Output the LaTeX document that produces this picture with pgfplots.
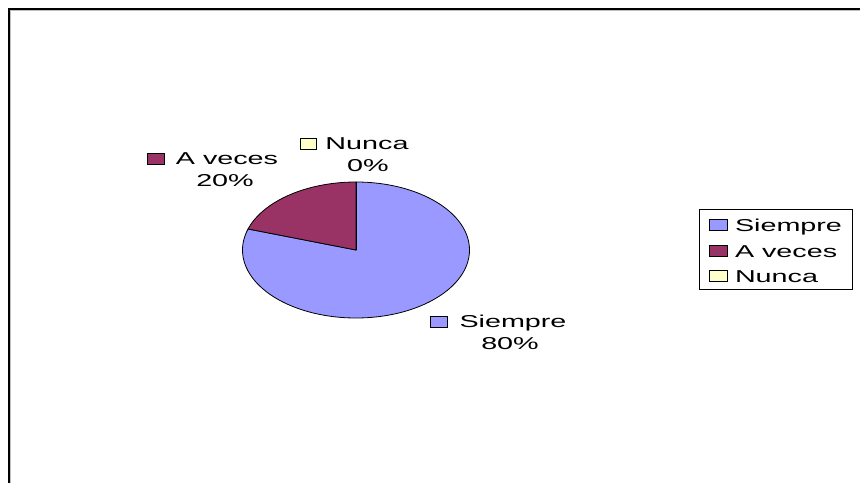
\documentclass[border=0pt]{standalone}
\usepackage{pgfplots}
\pgfplotsset{compat=1.18}
\usepackage{graphicx}
\usepackage{fontspec}
\setmainfont{Liberation Sans}

\definecolor{siempre}{HTML}{9999FF}
\definecolor{aveces}{HTML}{993366}
\definecolor{nunca}{HTML}{FFFFCC}

% porcentajes
\def\vSiempre{80}
\def\vAveces{20}
\def\vNunca{0}

\pgfmathsetmacro\aA{90-3.6*\vSiempre}
\pgfmathsetmacro\aB{\aA-3.6*\vAveces}
\pgfmathsetmacro\aC{\aB-3.6*\vNunca}

% wide text, like the stretched original
\newcommand{\wt}[1]{\scalebox{1.67}[1]{\fontsize{17.2bp}{21bp}\selectfont #1}}
\tikzset{lbl/.style={inner sep=0pt, outer sep=0pt, anchor=base},
         key/.style={draw=black, line width=0.6bp}}

\begin{document}
\begin{tikzpicture}
\begin{axis}[
    width=860bp, height=483bp, scale only axis,
    xmin=0, xmax=860, ymin=0, ymax=483,
    y dir=reverse,
    hide axis,
    clip=false,
]
    % frame (top and left)
    \draw[gray!50, line width=1bp] (axis cs:10.5,483) -- (axis cs:10.5,10.5) -- (axis cs:860,10.5);
    \draw[black, line width=2bp] (axis cs:9,483) -- (axis cs:9,9) -- (axis cs:860,9);

    % pie
    \filldraw[fill=siempre, draw=black, line width=0.8bp]
      (axis cs:356,250) -- ++(90:113.5bp and 68bp)
      arc[start angle=90, end angle=\aA, x radius=113.5bp, y radius=68bp] -- cycle;
    \filldraw[fill=aveces, draw=black, line width=0.8bp]
      (axis cs:356,250) -- ++(\aA:113.5bp and 68bp)
      arc[start angle=\aA, end angle=\aB, x radius=113.5bp, y radius=68bp] -- cycle;
    \draw[black, line width=0.8bp] (axis cs:356,250) -- ++(\aC:113.5bp and 68bp);

    % data labels
    \filldraw[key, fill=aveces] (axis cs:147,153) rectangle (axis cs:164,164);
    \node[lbl] at (axis cs:227,164) {\wt{A veces}};
    \node[lbl] at (axis cs:225,186) {\wt{\vAveces\%}};

    \filldraw[key, fill=nunca] (axis cs:300,138) rectangle (axis cs:316,149);
    \node[lbl] at (axis cs:367,149) {\wt{Nunca}};
    \node[lbl] at (axis cs:368,171) {\wt{\vNunca\%}};

    \filldraw[key, fill=siempre] (axis cs:430,316) rectangle (axis cs:447,327);
    \node[lbl] at (axis cs:513,327) {\wt{Siempre}};
    \node[lbl] at (axis cs:510,349) {\wt{\vSiempre\%}};

    % legend
    \draw[black, line width=1bp] (axis cs:699,209) rectangle (axis cs:852,289);
    \filldraw[key, fill=siempre] (axis cs:709,219.5) rectangle (axis cs:727,230.5);
    \node[lbl, anchor=base west] at (axis cs:735,231) {\wt{Siempre}};
    \filldraw[key, fill=aveces] (axis cs:709,245.5) rectangle (axis cs:727,256.5);
    \node[lbl, anchor=base west] at (axis cs:735,257) {\wt{A veces}};
    \filldraw[key, fill=nunca] (axis cs:709,270.5) rectangle (axis cs:727,281.5);
    \node[lbl, anchor=base west] at (axis cs:735,282) {\wt{Nunca}};
\end{axis}
\pgfresetboundingbox
\path (0,0) rectangle (860bp,483bp);
\end{tikzpicture}
\end{document}
